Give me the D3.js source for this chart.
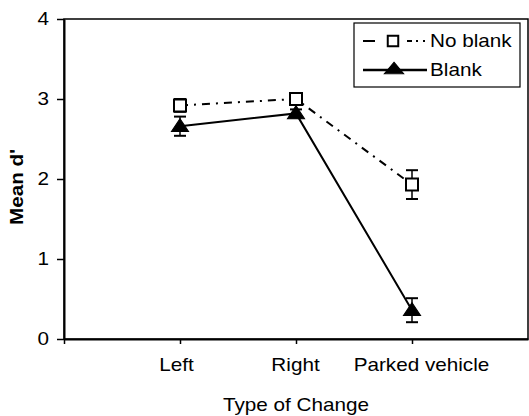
<!DOCTYPE html>
<html>
<head>
<meta charset="utf-8">
<script src="https://d3js.org/d3.v7.min.js"></script>
<style>
body { margin: 0; background: #fff; }
text { font-family: "Liberation Sans", Arial, sans-serif; fill: #000; }
</style>
</head>
<body>
<div id="mainDiv"></div>
<script>
'use strict';

// dados do gráfico
var categories = ['Left', 'Right', 'Parked vehicle'];
var noBlank    = [2.92, 3.00, 1.93];
var noBlankErr = [0.08, 0.05, 0.18];
var blank      = [2.66, 2.82, 0.36];
var blankErr   = [0.12, 0.05, 0.15];
var yTicks     = [0, 1, 2, 3, 4];

var chart = {};
chart.w = 529;
chart.h = 416;
chart.margins = {top: 19, bottom: 77, left: 64, right: 1};
chart.sx = 1.15;       // texto um pouco mais largo, como no original
chart.fontSize = 18;
chart.labelShift = [-4, -1, 9]; // deslocamento dos rótulos das categorias

chart.run = function()
{
    var svg = d3.select('#mainDiv').append('svg')
        .attr('width', chart.w)
        .attr('height', chart.h);

    var innerW = chart.w - chart.margins.left - chart.margins.right;
    var innerH = chart.h - chart.margins.top - chart.margins.bottom;

    // categorias em 1,2,3 num domínio 0..4
    var xScale = d3.scaleLinear().domain([0, 4]).range([0, innerW]);
    var yScale = d3.scaleLinear().domain([0, 4]).range([innerH, 0]);

    var g = svg.append('g')
        .attr('transform', 'translate(' + chart.margins.left + ',' + chart.margins.top + ')');

    // moldura
    g.append('rect')
        .attr('x', 0).attr('y', 0)
        .attr('width', innerW).attr('height', innerH)
        .attr('fill', 'none').attr('stroke', '#000').attr('stroke-width', 1.5);

    // eixo y
    var yAxis = d3.axisLeft(yScale).tickValues(yTicks).tickFormat(d3.format('d')).tickSizeInner(7).tickSizeOuter(0);
    var yG = g.append('g').call(yAxis);
    yG.select('.domain').attr('stroke-width', 2);
    yG.selectAll('line').attr('stroke-width', 1.5);
    yG.selectAll('text')
        .style('font-size', chart.fontSize + 'px')
        .attr('x', 0)
        .attr('transform', 'translate(-15,0) scale(' + chart.sx + ',1)');

    // eixo x
    var xAxis = d3.axisBottom(xScale).tickValues([0, 1, 2, 3])
        .tickFormat(function(d) { return d === 0 ? '' : categories[d - 1]; })
        .tickSizeInner(5).tickSizeOuter(0);
    var xG = g.append('g').attr('transform', 'translate(0,' + innerH + ')').call(xAxis);
    xG.select('.domain').attr('stroke-width', 2);
    xG.selectAll('line').attr('stroke-width', 1.5);
    xG.selectAll('text')
        .style('font-size', chart.fontSize + 'px')
        .attr('y', 0).attr('dy', 0)
        .attr('transform', function(d) {
            var dx = d === 0 ? 0 : chart.labelShift[d - 1];
            return 'translate(' + dx + ',32) scale(' + chart.sx + ',1)';
        });

    // títulos
    svg.append('text')
        .attr('transform', 'translate(296,411) scale(' + chart.sx + ',1)')
        .attr('text-anchor', 'middle')
        .style('font-size', chart.fontSize + 'px')
        .text('Type of Change');

    svg.append('text')
        .attr('transform', 'translate(23,187) rotate(-90) scale(' + chart.sx + ',1)')
        .attr('text-anchor', 'middle')
        .style('font-size', '18px')
        .style('font-weight', 'bold')
        .text("Mean d'");

    var line = d3.line()
        .x(function(d, i) { return xScale(i + 1); })
        .y(function(d) { return yScale(d); });

    // linhas
    g.append('path').datum(noBlank)
        .attr('d', line)
        .attr('fill', 'none').attr('stroke', '#000').attr('stroke-width', 2)
        .attr('stroke-dasharray', '8,6,2,6');

    g.append('path').datum(blank)
        .attr('d', line)
        .attr('fill', 'none').attr('stroke', '#000').attr('stroke-width', 2);

    // barras de erro
    function errorBars(vals, errs)
    {
        var eg = g.append('g');
        vals.forEach(function(v, i) {
            var x = xScale(i + 1);
            var y0 = yScale(v - errs[i]), y1 = yScale(v + errs[i]);
            eg.append('line').attr('x1', x).attr('x2', x).attr('y1', y0).attr('y2', y1)
                .attr('stroke', '#000').attr('stroke-width', 1.5);
            [y0, y1].forEach(function(y) {
                eg.append('line').attr('x1', x - 6).attr('x2', x + 6).attr('y1', y).attr('y2', y)
                    .attr('stroke', '#000').attr('stroke-width', 2);
            });
        });
    }
    errorBars(noBlank, noBlankErr);
    errorBars(blank, blankErr);

    // marcadores
    var sq = d3.symbol().type(d3.symbolSquare).size(144);
    var sqLeg = d3.symbol().type(d3.symbolSquare).size(110);
    var tri = d3.symbol().type(d3.symbolTriangle).size(95);

    g.selectAll('.sq').data(noBlank).enter().append('path')
        .attr('class', 'sq')
        .attr('d', sq)
        .attr('transform', function(d, i) { return 'translate(' + xScale(i + 1) + ',' + yScale(d) + ')'; })
        .attr('fill', '#fff').attr('stroke', '#000').attr('stroke-width', 2);

    g.selectAll('.tri').data(blank).enter().append('path')
        .attr('class', 'tri')
        .attr('d', tri)
        .attr('transform', function(d, i) {
            return 'translate(' + xScale(i + 1) + ',' + (yScale(d) + 1) + ') scale(' + chart.sx + ',1)';
        })
        .attr('fill', '#000').attr('stroke', '#000').attr('stroke-width', 1);

    // legenda
    var lg = svg.append('g');
    lg.append('rect')
        .attr('x', 354).attr('y', 23).attr('width', 166).attr('height', 64)
        .attr('fill', '#fff').attr('stroke', '#000').attr('stroke-width', 1.2);

    lg.append('line').attr('x1', 363).attr('x2', 427).attr('y1', 41).attr('y2', 41)
        .attr('stroke', '#000').attr('stroke-width', 2).attr('stroke-dasharray', '12,32,5,4,2,5,2,10');
    lg.append('path').attr('d', sqLeg).attr('transform', 'translate(393,41)')
        .attr('fill', '#fff').attr('stroke', '#000').attr('stroke-width', 2);
    lg.append('text').attr('transform', 'translate(430,47) scale(' + chart.sx + ',1)')
        .style('font-size', chart.fontSize + 'px').text('No blank');

    lg.append('line').attr('x1', 363).attr('x2', 427).attr('y1', 70).attr('y2', 70)
        .attr('stroke', '#000').attr('stroke-width', 2.5);
    lg.append('path').attr('d', tri).attr('transform', 'translate(394,70) scale(1.3,0.9)')
        .attr('fill', '#000').attr('stroke', '#000').attr('stroke-width', 1);
    lg.append('text').attr('transform', 'translate(430,76) scale(' + chart.sx + ',1)')
        .style('font-size', chart.fontSize + 'px').text('Blank');
};

window.onload = chart.run;
</script>
</body>
</html>
